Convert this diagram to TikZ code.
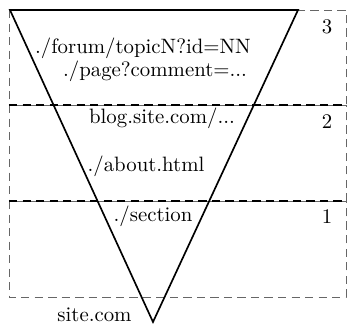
\documentclass[tikz,border=0pt]{standalone}
\tikzset{
  level/.style={draw=black!60, dash pattern=on 4pt off 2.5pt},
  cut/.style={thick, dash pattern=on 4pt off 2.5pt},
  url/.style={anchor=base, inner sep=0pt}
}
\begin{document}
\begin{tikzpicture}[x=0.4808pt,y=-0.4808pt]
            \useasboundingbox (0,0) rectangle (347,324);
            % levels
            \foreach \n/\t/\b in {3/10/105, 2/105/201, 1/201/297}{
                \draw[level] (9,\t) rectangle (346,\b);
                \node[url] (n\n) at (327,\t+23) {\n};
            }
            \draw[cut] (9,105) -- (347,105);
            \draw[cut] (9,201) -- (347,201);
            % funnel
            \coordinate (tl) at (10,10);
            \coordinate (tr) at (298,10);
            \coordinate (apex) at (153,322);
            \draw[thick] (tl) -- (tr) -- (apex) -- cycle;
            \node[url] (forum) at (143,53) {./forum/topicN?id=NN};
            \node[url] (page) at (155,76) {./page?comment=...};
            \node[url] (blog) at (162,123) {blog.site.com/...};
            \node[url] (about) at (146,172) {./about.html};
            \node[url] (section) at (153,222) {./section};
            \node[url] (root) at (94.5,322) {site.com};
        \end{tikzpicture}
\end{document}
